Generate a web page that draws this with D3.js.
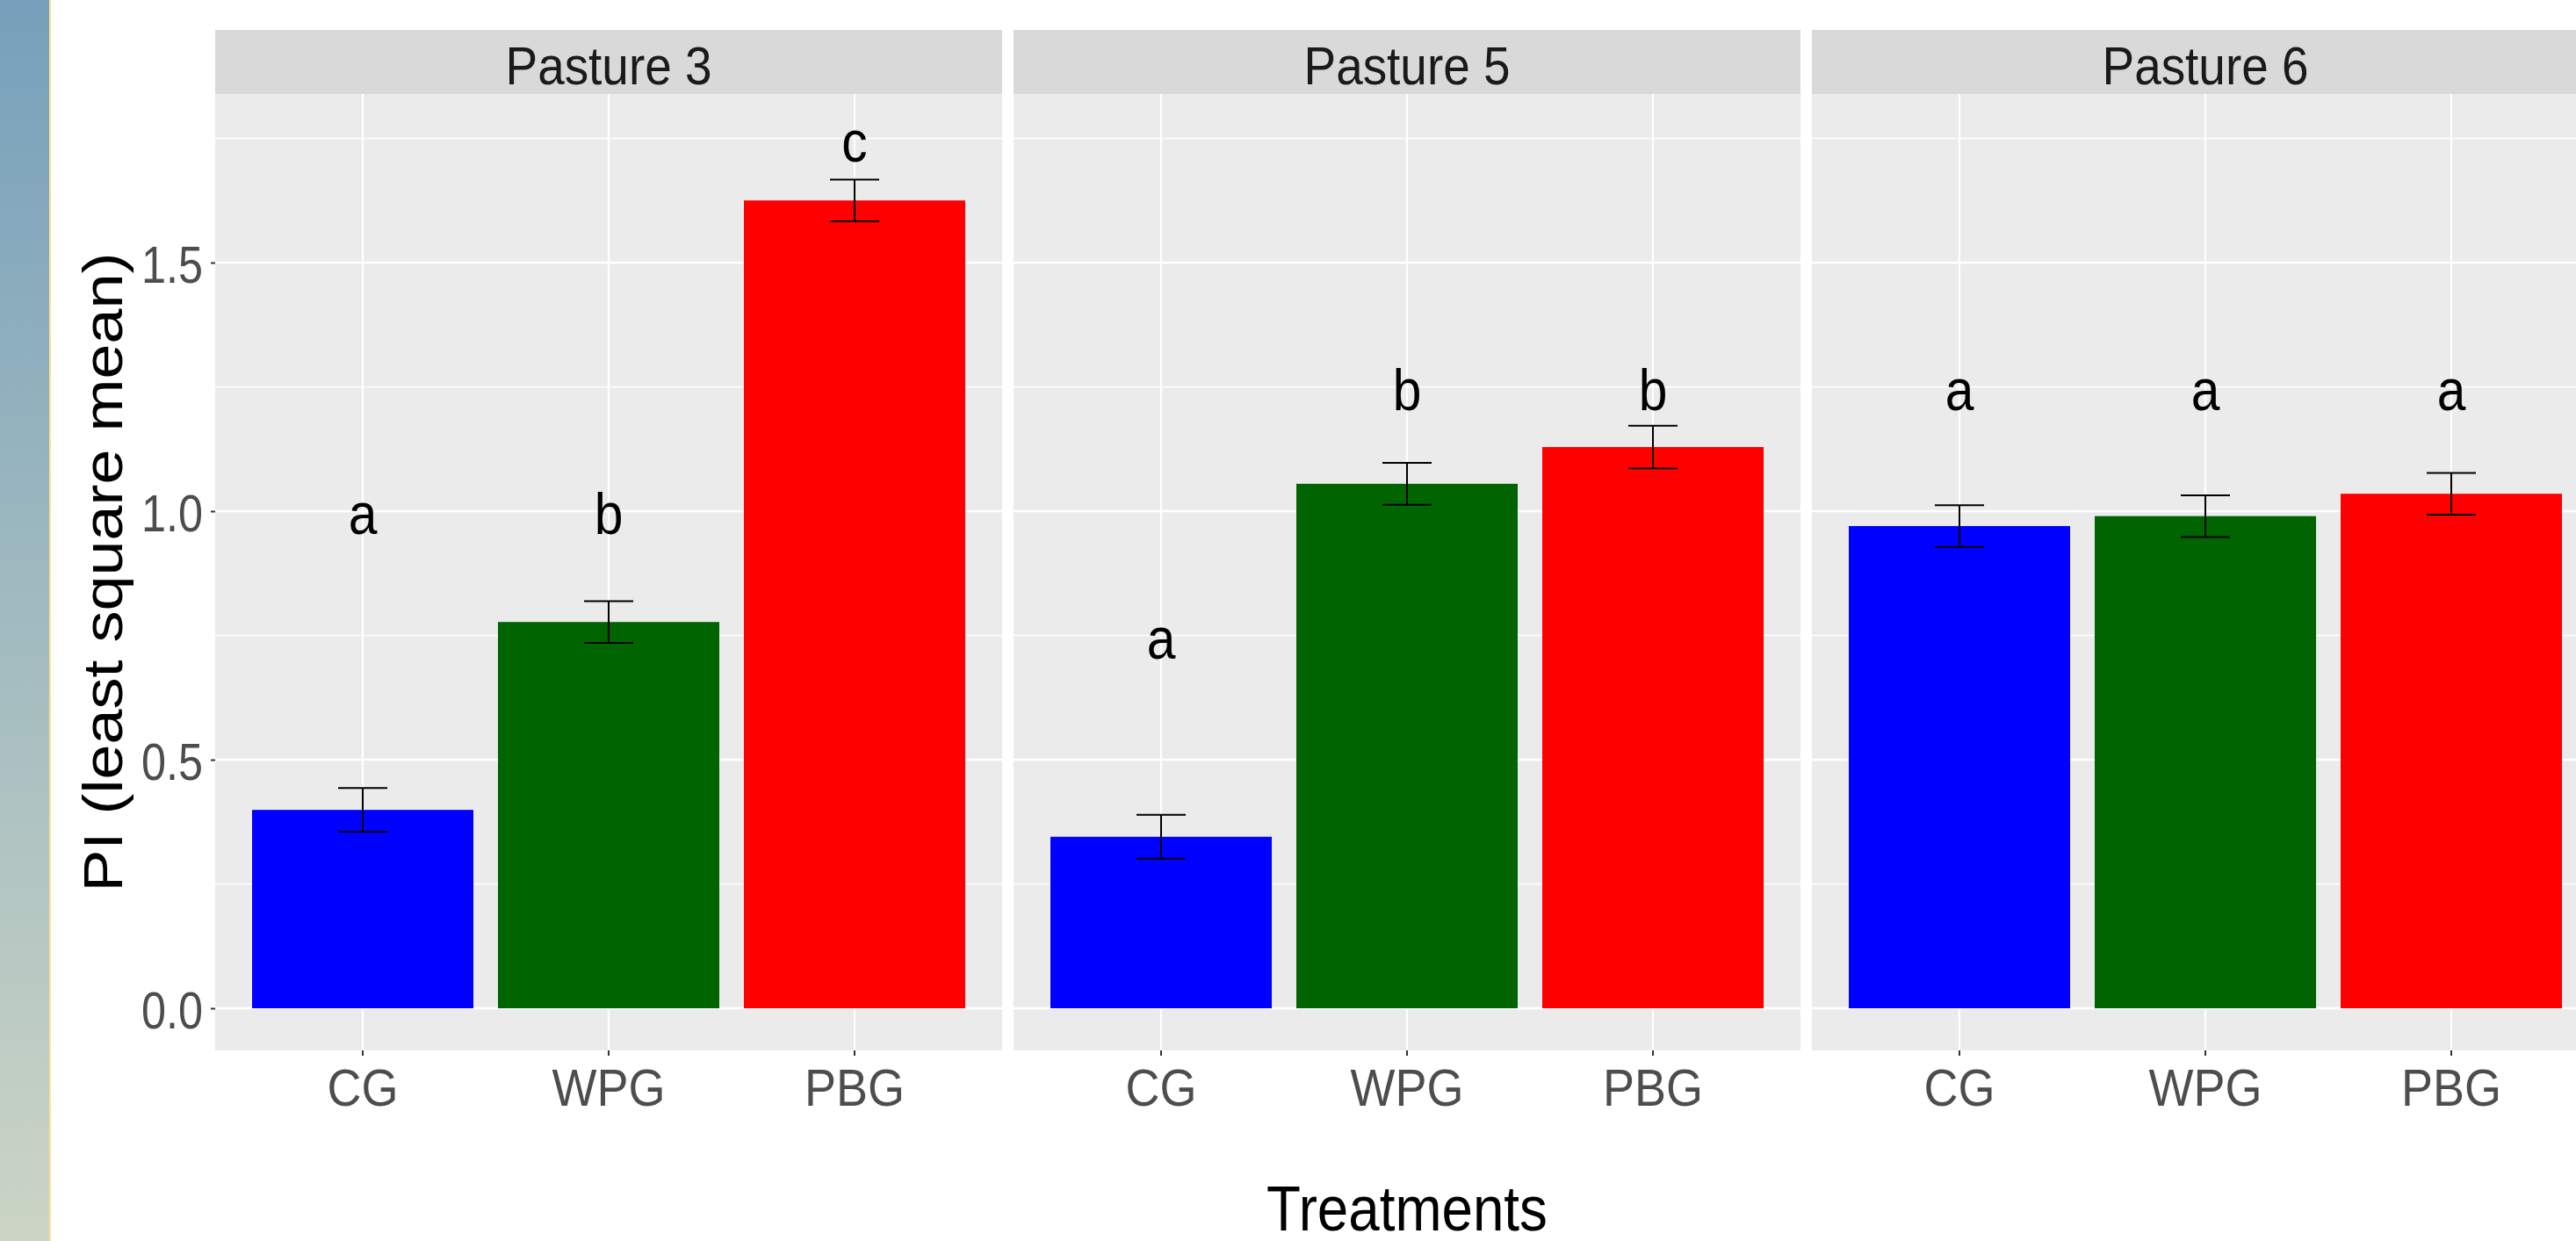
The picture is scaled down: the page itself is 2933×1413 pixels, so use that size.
<html><head>
<title>PI by treatment and pasture</title>
<script src="https://d3js.org/d3.v7.min.js"></script>
<style>
  body { margin: 0; background: #ffffff; }
  svg text { font-family: "Liberation Sans", Arial, sans-serif; }
</style>
</head>
<body>
<div id="container"></div>
<script>

// DATA
const pastures = ["Pasture 3", "Pasture 5", "Pasture 6"];
const treatments = ["CG", "WPG", "PBG"];
const treatmentColors = ["#0000ff", "#006400", "#ff0000"];
const means = [
  [0.399, 0.777, 1.625],
  [0.345, 1.055, 1.129],
  [0.970, 0.990, 1.035]
];
const stdErrs = [
  [0.044, 0.042, 0.042],
  [0.044, 0.042, 0.043],
  [0.042, 0.042, 0.042]
];
const letters = [
  ["a", "b", "c"],
  ["a", "b", "b"],
  ["a", "a", "a"]
];
const letterPos = [
  [1.0, 1.0, 1.75],
  [0.75, 1.25, 1.25],
  [1.25, 1.25, 1.25]
];
const yTicks = [0, 0.5, 1.0, 1.5];
const yMinor = [0.25, 0.75, 1.25, 1.75];

const width = 2933, height = 1413;
const panelTop = 107, panelBottom = 1196, stripTop = 34;
const panelLeft = 245, panelRight = 2959, panelGap = 13;
// the source image is squeezed horizontally, so text is too
const squeeze = 0.89;

const svg = d3.select("#container").append("svg")
              .attr("width", width).attr("height", height);

// slide background strip on the left
const grad = svg.append("defs").append("linearGradient")
                .attr("id", "side").attr("x1", 0).attr("x2", 0).attr("y1", 0).attr("y2", 1);
grad.append("stop").attr("offset", "0%").attr("stop-color", "#76a0bb");
grad.append("stop").attr("offset", "100%").attr("stop-color", "#ccd5c5");
svg.append("rect").attr("x", 0).attr("y", 0).attr("width", 56).attr("height", height).attr("fill", "url(#side)");
svg.append("rect").attr("x", 56).attr("y", 0).attr("width", 2).attr("height", height).attr("fill", "#ffe38e");

// scales
const step = (panelRight - panelLeft + panelGap) / 3;
const facetScale = d3.scaleBand().domain(pastures)
                     .range([panelLeft, panelRight])
                     .paddingInner(panelGap / step).paddingOuter(0);
const pw = facetScale.bandwidth();
const xScale = d3.scaleBand().domain(treatments).range([0, pw])
                 .paddingInner(0.1).paddingOuter(0.15);
const yScale = d3.scaleLinear().domain([-0.0848, 1.8392]).range([panelBottom, panelTop]);
const color = d3.scaleOrdinal().domain(treatments).range(treatmentColors);

pastures.forEach((p, pi) => {
  const g = svg.append("g").attr("transform", "translate(" + facetScale(p) + ",0)");

  // strip
  g.append("rect").attr("x", 0).attr("y", stripTop).attr("width", pw)
   .attr("height", panelTop - stripTop).attr("fill", "#d9d9d9");
  g.append("text").attr("transform", "translate(" + (pw / 2) + ",96) scale(0.9,1)")
   .attr("text-anchor", "middle")
   .attr("font-size", 61).attr("fill", "#1a1a1a").text(p);

  // panel + grid
  g.append("rect").attr("x", 0).attr("y", panelTop).attr("width", pw)
   .attr("height", panelBottom - panelTop).attr("fill", "#ebebeb");
  g.selectAll("line.minor").data(yMinor).join("line").attr("class", "minor")
   .attr("x1", 0).attr("x2", pw)
   .attr("y1", d => yScale(d)).attr("y2", d => yScale(d))
   .attr("stroke", "#ffffff").attr("stroke-width", 1.3);
  g.selectAll("line.major").data(yTicks).join("line").attr("class", "major")
   .attr("x1", 0).attr("x2", pw)
   .attr("y1", d => yScale(d)).attr("y2", d => yScale(d))
   .attr("stroke", "#ffffff").attr("stroke-width", 2.4);
  g.selectAll("line.vgrid").data(treatments).join("line").attr("class", "vgrid")
   .attr("x1", d => xScale(d) + xScale.bandwidth() / 2).attr("x2", d => xScale(d) + xScale.bandwidth() / 2)
   .attr("y1", panelTop).attr("y2", panelBottom)
   .attr("stroke", "#ffffff").attr("stroke-width", 2.2);

  // bars
  const rows = treatments.map((t, ti) => ({
    t: t, mean: means[pi][ti], se: stdErrs[pi][ti], letter: letters[pi][ti], ly: letterPos[pi][ti]
  }));
  g.selectAll("rect.bar").data(rows).join("rect").attr("class", "bar")
   .attr("x", d => xScale(d.t)).attr("width", xScale.bandwidth())
   .attr("y", d => yScale(d.mean)).attr("height", d => yScale(0) - yScale(d.mean))
   .attr("fill", d => color(d.t));

  // error bars
  const half = xScale.step() * 0.1;
  const cx = d => xScale(d.t) + xScale.bandwidth() / 2;
  const eb = g.selectAll("g.err").data(rows).join("g").attr("class", "err")
              .attr("stroke", "#000000").attr("stroke-width", 2);
  eb.append("line").attr("x1", cx).attr("x2", cx)
    .attr("y1", d => yScale(d.mean + d.se)).attr("y2", d => yScale(d.mean - d.se));
  eb.append("line").attr("x1", d => cx(d) - half).attr("x2", d => cx(d) + half)
    .attr("y1", d => yScale(d.mean + d.se)).attr("y2", d => yScale(d.mean + d.se));
  eb.append("line").attr("x1", d => cx(d) - half).attr("x2", d => cx(d) + half)
    .attr("y1", d => yScale(d.mean - d.se)).attr("y2", d => yScale(d.mean - d.se));

  // significance letters
  g.selectAll("text.letter").data(rows).join("text").attr("class", "letter")
   .attr("transform", d => "translate(" + cx(d) + "," + yScale(d.ly) + ") scale(" + squeeze + ",1)")
   .attr("dy", "0.4em")
   .attr("text-anchor", "middle").attr("font-size", 66).attr("fill", "#000000")
   .text(d => d.letter);

  // x axis
  const xAxis = d3.axisBottom(xScale).tickSize(6).tickPadding(12);
  const xa = g.append("g").attr("transform", "translate(0," + panelBottom + ")").call(xAxis);
  xa.select(".domain").remove();
  xa.selectAll(".tick line").attr("stroke", "#333333").attr("stroke-width", 2);
  xa.selectAll(".tick text").attr("font-size", 60).attr("fill", "#4d4d4d")
    .attr("font-family", "Liberation Sans, Arial, sans-serif").attr("dy", "0.75em")
    .attr("transform", "scale(0.9,1)");
});

// y axis (left panel only)
const ySq = 0.84;
const yAxis = d3.axisLeft(yScale).tickValues(yTicks).tickFormat(d3.format(".1f")).tickSize(5).tickPadding(9);
const ya = svg.append("g").attr("transform", "translate(" + panelLeft + ",0)").call(yAxis);
ya.select(".domain").remove();
ya.selectAll(".tick line").attr("stroke", "#333333").attr("stroke-width", 2);
ya.selectAll(".tick text").attr("font-size", 60).attr("fill", "#4d4d4d")
  .attr("font-family", "Liberation Sans, Arial, sans-serif").attr("dy", "0.37em")
  .attr("x", -14 / ySq).attr("transform", "scale(" + ySq + ",1)");

// axis titles
svg.append("text")
   .attr("transform", "translate(139," + (panelTop + panelBottom) / 2 + ") scale(0.87,1) rotate(-90)")
   .attr("text-anchor", "middle").attr("font-size", 72).attr("fill", "#000000")
   .text("PI (least square mean)");
svg.append("text")
   .attr("transform", "translate(" + (panelLeft + panelRight) / 2 + ",1401) scale(0.885,1)")
   .attr("text-anchor", "middle").attr("font-size", 72).attr("fill", "#000000")
   .text("Treatments");

</script>
</body>
</html>
